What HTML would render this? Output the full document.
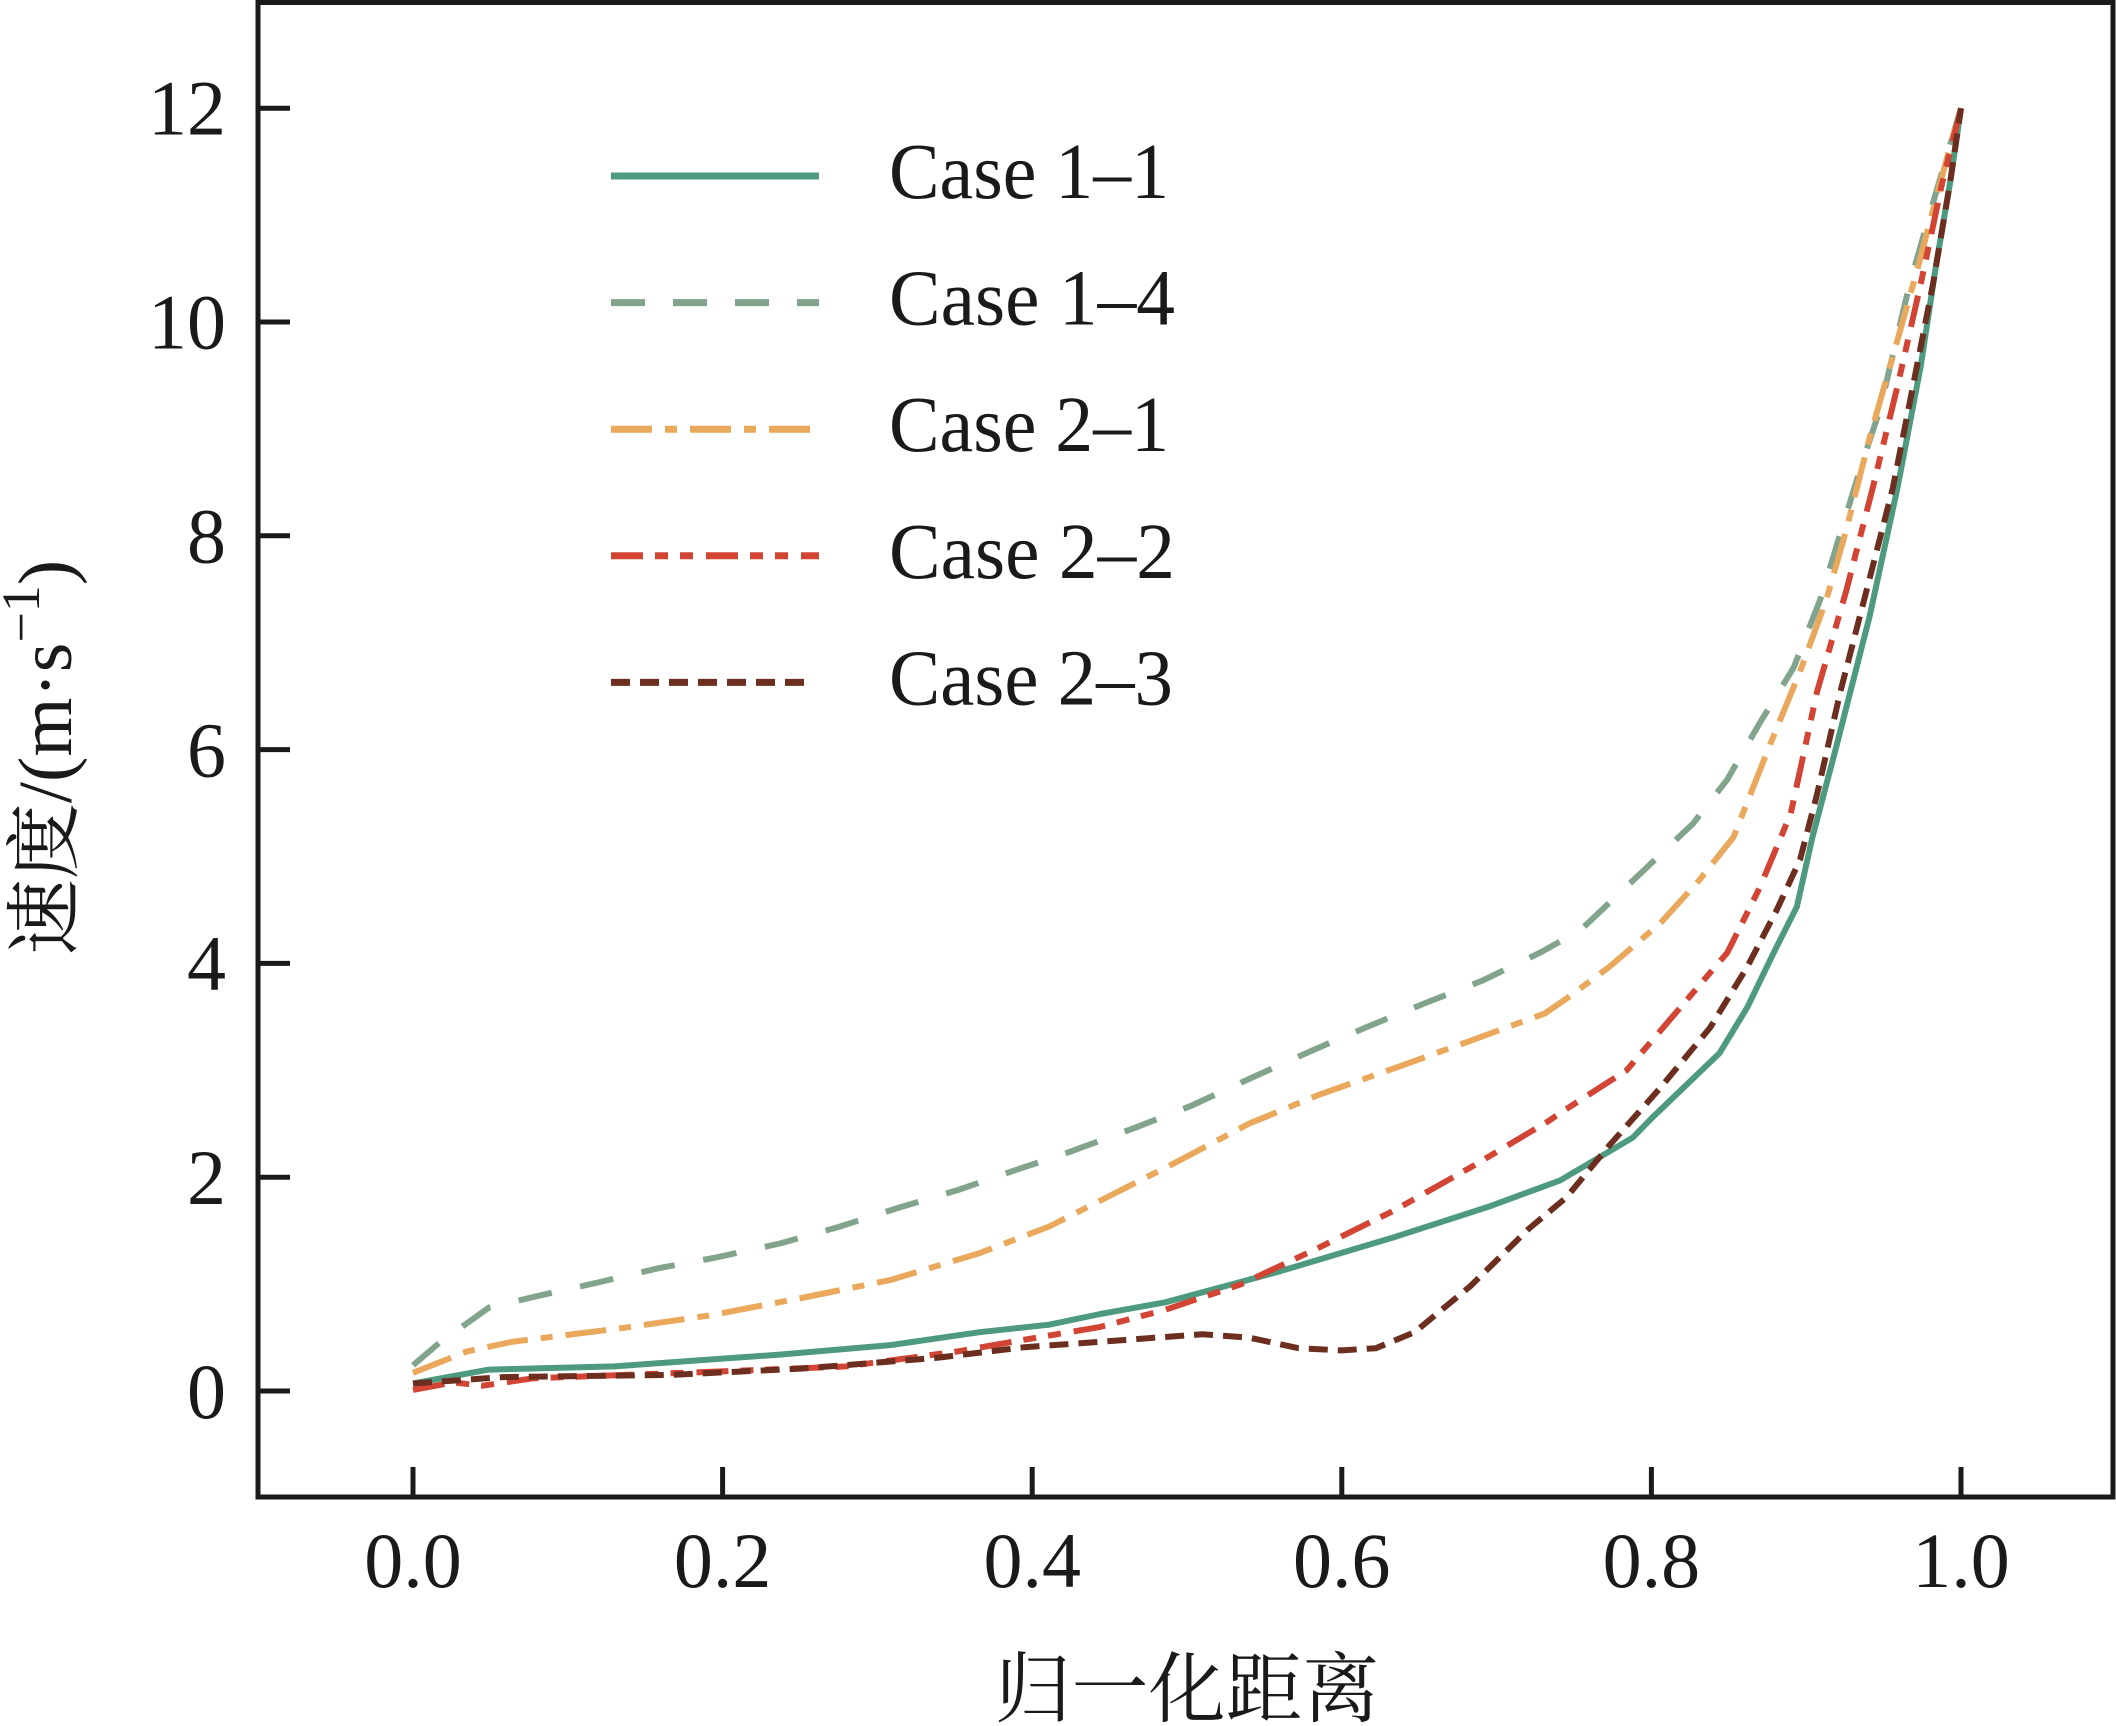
<!DOCTYPE html>
<html>
<head>
<meta charset="utf-8">
<style>
  html, body { margin: 0; padding: 0; background: #ffffff; }
  svg { display: block; }
  .tk { font-family: "Liberation Serif", serif; font-size: 78px; fill: #1a1a1a; }
  .lg { font-family: "Liberation Serif", serif; font-size: 79px; fill: #1a1a1a; }
  .cj { font-family: "Liberation Serif", "Noto Serif CJK SC", "Noto Sans CJK SC", serif; fill: #1a1a1a; }
</style>
</head>
<body>
<svg width="2116" height="1726" viewBox="0 0 2116 1726" xmlns="http://www.w3.org/2000/svg">
  <rect x="0" y="0" width="2116" height="1726" fill="#ffffff"/>

  <!-- Data series -->
  <g fill="none" stroke-linejoin="round" stroke-width="6">
    <!-- Case 1-1 -->
    <polyline stroke="#4e9a7e" points="413,1383.5 488.9,1369.6 614.2,1366.4 778.3,1354.7 891.3,1345 979.6,1332.2 1049.2,1324.7 1100.3,1314 1165.3,1302.3 1279.9,1271.3 1394.4,1237.1 1490.4,1206.1 1560.1,1180.4 1632.8,1137.6 1651.4,1118.4 1719.5,1053.2 1747.4,1007.2 1773.7,952.7 1796.9,906.7 1812.4,837.3 1837.2,743.2 1869.7,616 1897.5,487.7 1920.8,365.8 1936.2,264.3 1950.2,182 1961,108.2"/>
    <!-- Case 1-4 -->
    <polyline stroke="#82a48c" stroke-dasharray="34 29" points="413,1365.3 439.3,1342.9 488.9,1307.6 533.7,1296.9 595.7,1283 659.1,1268.1 716.4,1257.4 779.9,1243.5 837.2,1227.4 900.6,1207.1 957.9,1190 1016.7,1169.7 1064.7,1153.7 1134.4,1128 1191.6,1105.6 1248.9,1079 1310.8,1051.1 1368.1,1026.5 1425.4,1003 1482.7,980.5 1539.9,952.7 1580.2,930.3 1643.7,870.4 1693.2,823.4 1727.3,779.5 1759.8,722.9 1793.8,667.3 1820.1,599.9 1840.3,533.7 1860.4,468.5 1880.5,407.5 1897.5,334.8 1909.9,283.5 1930,213 1961,108.2"/>
    <!-- Case 2-1 -->
    <polyline stroke="#e9a85c" stroke-dasharray="41 13 12 13" points="413,1372.8 467.2,1351.4 512.1,1341.8 623.5,1327.9 711.8,1315.1 801.5,1298 891.3,1279.8 979.6,1253.1 1049.2,1226.5 1106.5,1197.5 1176.2,1162.2 1248.9,1123.7 1318.6,1094.9 1394.4,1068.2 1468.7,1041.4 1544.6,1013.6 1569.4,996.5 1609.6,966.6 1660.7,922.8 1699.4,880 1733.4,837.3 1770.6,743.2 1800,671.6 1826.3,599.9 1846.4,529.4 1869.7,437.5 1892.9,356.2 1916.1,273.9 1947.1,157.4 1961,108.2"/>
    <!-- Case 2-2 -->
    <polyline stroke="#d24434" stroke-dasharray="32 12 13 12 13 13" points="413,1389.9 453.2,1382.4 482.7,1385.7 533.7,1378.2 711.8,1371.8 846.4,1366.4 957.9,1351.4 1024.5,1339.7 1100.3,1326.9 1165.3,1309.8 1241.2,1284.2 1318.6,1247.8 1394.4,1210.3 1470.3,1167.6 1547.7,1121.6 1560.1,1113.1 1626.6,1070.3 1687,999.7 1727.3,952.7 1759.8,887.5 1790.7,813.7 1817,691.9 1846.4,590.3 1872.8,487.7 1897.5,386.1 1920.8,283.5 1942.4,182 1961,108.2"/>
    <!-- Case 2-3 -->
    <polyline stroke="#6b2e1f" stroke-dasharray="19 10" points="413,1383.5 502.8,1377.1 668.4,1375 801.5,1368.6 936.2,1357.9 1024.5,1347.2 1100.3,1341.8 1156,1337.6 1202.5,1334.3 1248.9,1337.6 1298.5,1348.2 1341.8,1350.4 1375.9,1348.2 1414.6,1332.2 1470.3,1286.2 1529.1,1228.5 1566.3,1197.5 1609.6,1145.1 1660.7,1087.4 1710.2,1027.5 1747.4,966.6 1776.8,909.9 1800,859.7 1817,794.5 1840.3,691.9 1866.6,590.3 1892.9,487.7 1913,386.1 1933.1,283.5 1950.2,182 1961,108.2"/>
  </g>

  <!-- Axes frame -->
  <rect x="258" y="2.5" width="1855" height="1494.5" fill="none" stroke="#1a1a1a" stroke-width="5"/>

  <!-- Ticks -->
  <g stroke="#1a1a1a" stroke-width="5">
    <line x1="413" y1="1497" x2="413" y2="1467"/>
    <line x1="722.6" y1="1497" x2="722.6" y2="1467"/>
    <line x1="1032.2" y1="1497" x2="1032.2" y2="1467"/>
    <line x1="1341.8" y1="1497" x2="1341.8" y2="1467"/>
    <line x1="1651.4" y1="1497" x2="1651.4" y2="1467"/>
    <line x1="1961" y1="1497" x2="1961" y2="1467"/>

    <line x1="258" y1="1391" x2="290" y2="1391"/>
    <line x1="258" y1="1177.2" x2="290" y2="1177.2"/>
    <line x1="258" y1="963.4" x2="290" y2="963.4"/>
    <line x1="258" y1="749.6" x2="290" y2="749.6"/>
    <line x1="258" y1="535.8" x2="290" y2="535.8"/>
    <line x1="258" y1="322" x2="290" y2="322"/>
    <line x1="258" y1="108.2" x2="290" y2="108.2"/>
  </g>

  <!-- X tick labels -->
  <g class="tk" text-anchor="middle">
    <text x="413" y="1587">0.0</text>
    <text x="722.6" y="1587">0.2</text>
    <text x="1032.2" y="1587">0.4</text>
    <text x="1341.8" y="1587">0.6</text>
    <text x="1651.4" y="1587">0.8</text>
    <text x="1961" y="1587">1.0</text>
  </g>

  <!-- Y tick labels -->
  <g class="tk" text-anchor="end">
    <text x="226" y="1418">0</text>
    <text x="226" y="1204">2</text>
    <text x="226" y="990">4</text>
    <text x="226" y="776.5">6</text>
    <text x="226" y="562.5">8</text>
    <text x="226" y="348.5">10</text>
    <text x="226" y="134.5">12</text>
  </g>

  <!-- Axis labels -->
  <text class="cj" x="1187" y="1716" font-size="77" text-anchor="middle">归一化距离</text>
  <text class="cj" transform="translate(71,757.5) rotate(-90)" font-size="76" text-anchor="middle">速度/(m·s<tspan font-size="54" dy="-32">−1</tspan><tspan dy="32">)</tspan></text>

  <!-- Legend -->
  <g fill="none" stroke-width="7">
    <line x1="611" y1="176" x2="819" y2="176" stroke="#4e9a7e"/>
    <line x1="611" y1="302.6" x2="819" y2="302.6" stroke="#82a48c" stroke-dasharray="34 28"/>
    <line x1="611" y1="429.2" x2="819" y2="429.2" stroke="#e9a85c" stroke-dasharray="41 13 12 13"/>
    <line x1="611" y1="555.8" x2="819" y2="555.8" stroke="#d24434" stroke-dasharray="32 12 13 12 13 13"/>
    <line x1="611" y1="682.4" x2="808" y2="682.4" stroke="#6b2e1f" stroke-dasharray="19 10"/>
  </g>
  <g class="lg">
    <text x="889" y="198" textLength="280" lengthAdjust="spacingAndGlyphs">Case 1–1</text>
    <text x="889" y="324.6" textLength="286" lengthAdjust="spacingAndGlyphs">Case 1–4</text>
    <text x="889" y="451.2" textLength="280" lengthAdjust="spacingAndGlyphs">Case 2–1</text>
    <text x="889" y="577.8" textLength="286" lengthAdjust="spacingAndGlyphs">Case 2–2</text>
    <text x="889" y="704.4" textLength="284" lengthAdjust="spacingAndGlyphs">Case 2–3</text>
  </g>
</svg>
</body>
</html>
